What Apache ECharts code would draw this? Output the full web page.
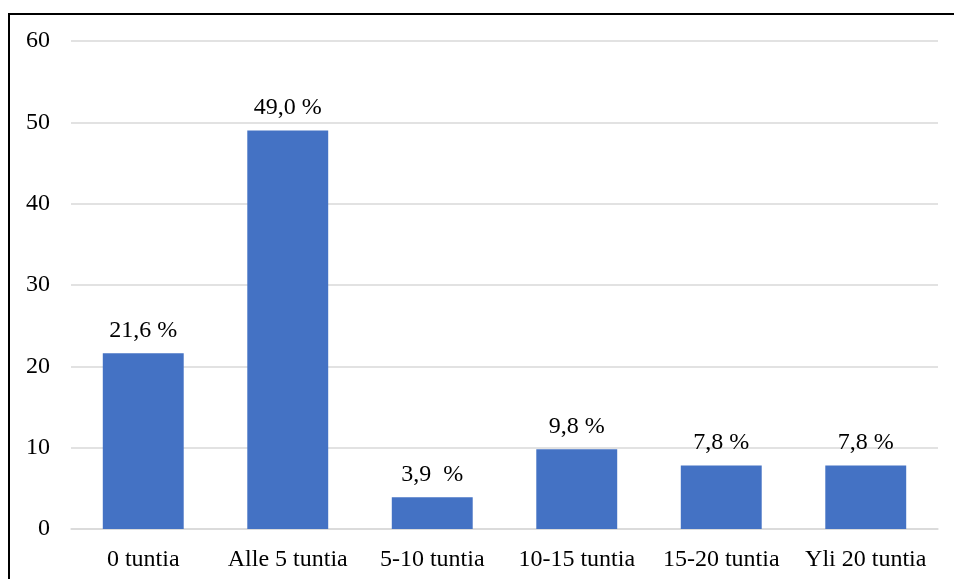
<!DOCTYPE html>
<html>
<head>
<meta charset="utf-8">
<script src="https://cdn.jsdelivr.net/npm/echarts@6/dist/echarts.min.js"></script>
<style>
html,body{margin:0;padding:0;background:#fff;}
#c{width:954px;height:579px;}
</style>
</head>
<body>
<div id="c"></div>
<script>
const categories = ["0 tuntia", "Alle 5 tuntia", "5-10 tuntia", "10-15 tuntia", "15-20 tuntia", "Yli 20 tuntia"];
const values = [21.6, 49.0, 3.9, 9.8, 7.8, 7.8];
const valueLabels = ["21,6 %", "49,0 %", "3,9  %", "9,8 %", "7,8 %", "7,8 %"];
const yTicks = [0, 10, 20, 30, 40, 50, 60];

const chart = echarts.init(document.getElementById('c'), null, {renderer: 'canvas'});
const font = '"Liberation Serif", "Times New Roman", serif';
chart.setOption({
  animation: false,
  backgroundColor: '#fff',
  graphic: [{
    type: 'rect',
    shape: {x: 9, y: 14, width: 1000, height: 700},
    style: {fill: 'none', stroke: '#000', lineWidth: 2},
    silent: true
  }],
  grid: {left: 71, right: 16, top: 41, bottom: 50, containLabel: false},
  xAxis: {
    type: 'category',
    data: categories,
    axisLine: {show: true, lineStyle: {color: '#d9d9d9', width: 1.5}},
    axisTick: {show: false},
    axisLabel: {color: '#000', fontFamily: font, fontSize: 24, margin: 19, interval: 0, hideOverlap: false}
  },
  yAxis: {
    type: 'value',
    min: yTicks[0],
    max: yTicks[yTicks.length - 1],
    interval: 10,
    axisLine: {show: false},
    axisTick: {show: false},
    splitLine: {lineStyle: {color: '#d9d9d9', width: 1.5}},
    axisLabel: {color: '#000', fontFamily: font, fontSize: 24, margin: 21}
  },
  series: [{
    type: 'bar',
    data: values,
    barWidth: '56%',
    itemStyle: {color: '#4472C4'},
    label: {
      show: true,
      position: 'top',
      distance: 11,
      color: '#000',
      fontFamily: font,
      fontSize: 24,
      formatter: p => valueLabels[p.dataIndex]
    }
  }]
});
</script>
</body>
</html>
